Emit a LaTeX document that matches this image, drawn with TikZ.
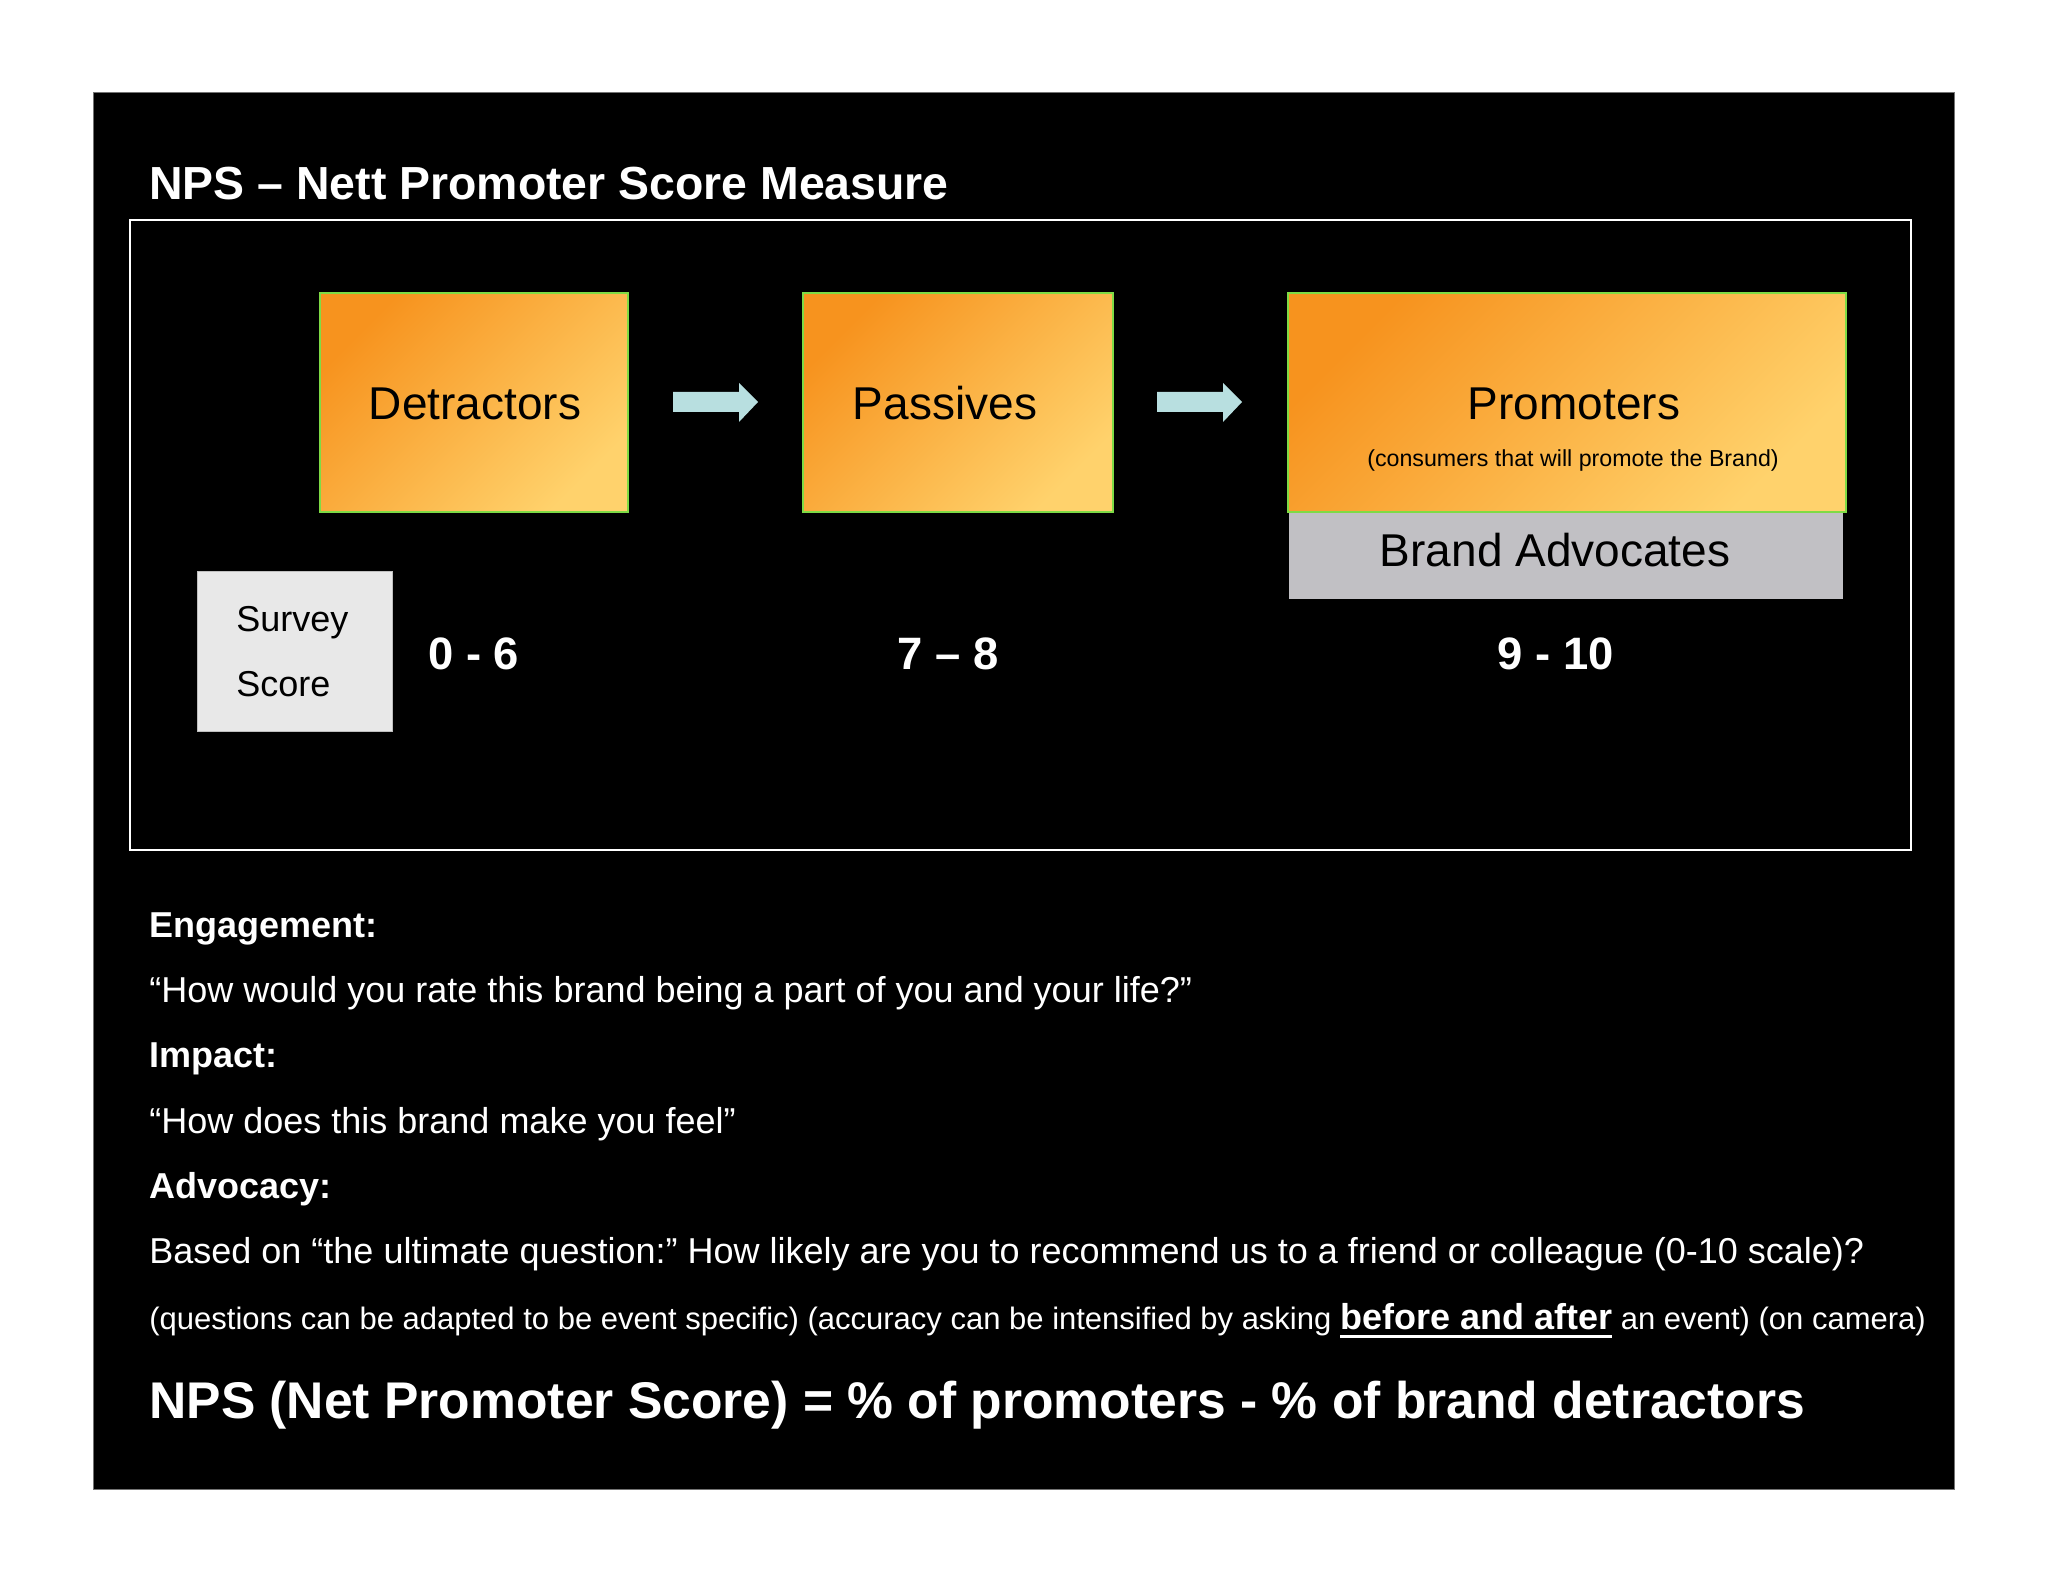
\documentclass[tikz,border=0pt]{standalone}
\usepackage{fontspec}
\setmainfont{Liberation Sans}
\definecolor{orD}{HTML}{F7931E}
\definecolor{orL}{HTML}{FFD26C}
\definecolor{grn}{HTML}{7EDB45}
\definecolor{arw}{HTML}{B8DFE0}
\definecolor{advc}{HTML}{C1C0C4}
\definecolor{svy}{HTML}{E8E8E8}
\newcommand\thickul[1]{\setbox0\hbox{#1}\rlap{\rule[-4.5pt]{\wd0}{1.3pt}}\box0}
\frenchspacing
\begin{document}
\begin{tikzpicture}[x=0.5pt,y=-0.5pt,
  obox/.style={draw=grn, line width=0.75pt, top color=orD, bottom color=orL, shading angle=45, rectangle, inner sep=0, minimum height=109.5pt, minimum width=#1},
  btxt/.style={text=black, inner sep=0, font=\fontsize{23}{27}\selectfont},
  wtxt/.style={text=white, inner sep=0, anchor=base west},
  body/.style={wtxt, font=\fontsize{18}{21}\selectfont},
  bodyb/.style={wtxt, font=\fontsize{18}{21}\selectfont\bfseries},
  num/.style={text=white, inner sep=0, font=\fontsize{22.7}{26}\selectfont\bfseries}]
\useasboundingbox (0,0) rectangle (2048,1582);
\fill[white] (0,0) rectangle (2048,1582);
\draw[fill=black, draw=black!55, line width=0.5pt] (93,93) rectangle (1954,1489);
\draw[white, line width=1pt] (130,220) rectangle (1911,850);
% title
\node[wtxt, font=\fontsize{23.2}{27}\selectfont\bfseries] (title) at (149,200) {NPS – Nett Promoter Score Measure};
% boxes
\node[obox=154pt] (det) at (474,402.5) {};
\node[obox=155pt] (pas) at (958,402.5) {};
\node[obox=279pt] (pro) at (1567,402.5) {};
\node[fill=advc, rectangle, inner sep=0, minimum width=277pt, minimum height=43pt] (adv) at (1566,556) {};
\node[fill=svy, draw=black!25, line width=0.5pt, rectangle, inner sep=0, minimum width=97.5pt, minimum height=79.5pt] (svy) at (294.5,651.5) {};
% box texts
\node[btxt, anchor=base] (dett) at (475,420) {Detractors};
\node[btxt, anchor=base] (past) at (945,420) {Passives};
\node[btxt, anchor=base] (prot) at (1574,420) {Promoters};
\node[text=black, inner sep=0, anchor=base, font=\fontsize{11.6}{14}\selectfont] (pros) at (1573,467) {(consumers that will promote the Brand)};
\node[btxt, anchor=base] (advt) at (1555,567) {Brand Advocates};
\node[text=black, inner sep=0, anchor=base west, font=\fontsize{18}{21}\selectfont] (svy1) at (236,631) {Survey};
\node[text=black, inner sep=0, anchor=base west, font=\fontsize{18}{21}\selectfont] (svy2) at (236,696) {Score};
% arrows
\fill[arw] (673,392) -- (739,392) -- (739,383) -- (758,402) -- (739,422) -- (739,412) -- (673,412) -- cycle;
\fill[arw] (1157,392) -- (1223,392) -- (1223,383) -- (1242,402) -- (1223,422) -- (1223,412) -- (1157,412) -- cycle;
% scores
\node[num, anchor=base west] (s1) at (428,669) {0 - 6};
\node[num, anchor=base west] (s2) at (897,669) {7 – 8};
\node[num, anchor=base] (s3) at (1556,669) {9 - 10};
% body text
\node[bodyb] (l1) at (149,937) {Engagement:};
\node[body] (l2) at (149,1002) {“How would you rate this brand being a part of you and your life?”};
\node[bodyb] (l3) at (149,1067) {Impact:};
\node[body] (l4) at (149,1133) {“How does this brand make you feel”};
\node[bodyb] (l5) at (149,1198) {Advocacy:};
\node[body] (l6) at (149,1263) {Based on “the ultimate question:” How likely are you to recommend us to a friend or colleague (0-10 scale)?};
\node[wtxt, font=\fontsize{15.5}{18}\selectfont] (l7) at (149,1329) {(questions can be adapted to be event specific) (accuracy can be intensified by asking {\fontsize{18}{21}\selectfont\bfseries\thickul{before and after}} an event) (on camera)};
\node[wtxt, font=\fontsize{25.8}{30}\selectfont\bfseries] (l8) at (149,1418) {NPS (Net Promoter Score) = \% of promoters - \% of brand detractors};
\end{tikzpicture}
\end{document}
